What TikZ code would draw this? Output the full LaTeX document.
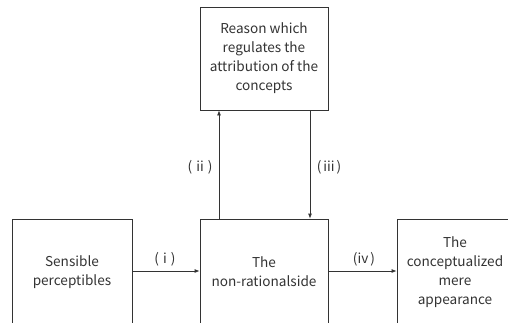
\documentclass[tikz,border=0pt]{standalone}
\usepackage{fontspec}
\setmainfont{Noto Sans CJK SC}
\usetikzlibrary{arrows.meta}
\definecolor{ink}{HTML}{333333}
\tikzset{
  box/.style={draw=ink, line width=0.8pt, text=ink, align=center, inner sep=0pt,
    font=\fontsize{13.6}{19}\selectfont},
  conn/.style={draw=ink, line width=0.8pt, -{Latex[length=5pt,width=4pt]}},
  lbl/.style={text=ink, font=\fontsize{13.6}{16}\selectfont, inner sep=0pt}
}
\newcommand{\lp}[1]{(\hspace{0.3em}#1\hspace{0.3em})}
\begin{document}
\begin{tikzpicture}[x=1pt,y=-1pt]
\useasboundingbox (0,0) rectangle (508,322);
\clip (0,0) rectangle (508,322);
\node[box, minimum width=128pt, minimum height=103pt] (reason) at (264,58.5)
  {Reason which\\regulates the\\attribution of the\\concepts};
\node[box, minimum width=120pt, minimum height=106pt] (sens) at (72,272)
  {Sensible\\perceptibles};
\node[box, minimum width=128pt, minimum height=106pt] (non) at (264,272)
  {The\\non-rationalside};
\node[box, minimum width=116pt, minimum height=106pt] (conc) at (455,272)
  {The\\conceptualized\\mere\\appearance};
\draw[conn] (sens.east |- 0,271) -- (non.west |- 0,271);
\draw[conn] (non.east |- 0,271) -- (conc.west |- 0,271);
\draw[conn] (non.north -| 219,0) -- (reason.south -| 219,0);
\draw[conn] (reason.south -| 310,0) -- (non.north -| 310,0);
\node[lbl] (li) at (165,259) {\lp{i}};
\node[lbl] (liv) at (364,259) {(iv\hspace{0.15em})};
\node[lbl] (lii) at (200,167) {\lp{ii}};
\node[lbl] (liii) at (329,167) {(\hspace{0.15em}iii\hspace{0.15em})};
\end{tikzpicture}
\end{document}
